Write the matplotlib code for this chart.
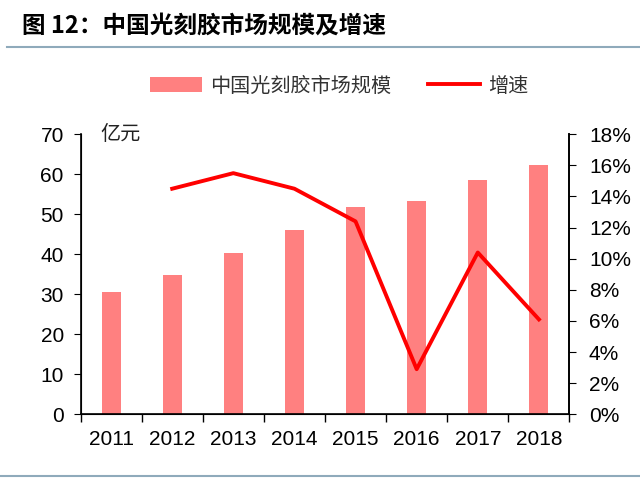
import matplotlib.pyplot as plt
from matplotlib.lines import Line2D
import numpy as np

plt.rcParams['font.family'] = ['Liberation Sans', 'Noto Sans CJK SC', 'DejaVu Sans']

years = ['2011', '2012', '2013', '2014', '2015', '2016', '2017', '2018']
market_size = [30.5, 34.8, 40.2, 46.1, 51.7, 53.3, 58.6, 62.2]   # 亿元
growth_years = ['2012', '2013', '2014', '2015', '2016', '2017', '2018']
growth = [14.5, 15.5, 14.5, 12.4, 2.9, 10.4, 6.1]               # %

fig = plt.figure(figsize=(6.4, 4.78), dpi=100)
ax = fig.add_axes([0.1258, 0.1333, 0.764, 0.5858])

x = np.arange(len(years))
ax.bar(x, market_size, width=0.31, color='#FF8080', label='中国光刻胶市场规模', zorder=2)
ax.set_xlim(-0.5, len(years) - 0.5)
ax.set_ylim(0, 70)
ax.set_yticks(range(0, 71, 10))
ax.set_xticks(x)
ax.set_xticklabels(years)
ax.set_xticks(np.arange(-0.5, len(years), 1), minor=True)
ax.tick_params(axis='x', which='major', length=0, labelsize=15, pad=11)
ax.tick_params(axis='x', which='minor', length=5.5, direction='out', width=1)
ax.tick_params(axis='y', length=5, direction='out', labelsize=15, pad=7)
ax.spines['top'].set_visible(False)
for s in ['left', 'bottom', 'right']:
    ax.spines[s].set_linewidth(1.2)

ax2 = ax.twinx()
gx = [years.index(y) for y in growth_years]
ax2.plot(gx, growth, color='#FF0000', linewidth=2.8, label='增速', zorder=3)
ax2.set_ylim(0, 18)
ax2.set_yticks(range(0, 19, 2))
ax2.set_yticklabels([f'{v}%' for v in range(0, 19, 2)])
ax2.tick_params(axis='y', length=5, direction='out', labelsize=15, pad=9)
ax2.spines['top'].set_visible(False)
ax2.spines['right'].set_linewidth(1.2)

ax.text(0.04, 1.0, '亿元', transform=ax.transAxes, fontsize=14.5,
        family=['Noto Sans CJK SC'], va='center', ha='left', color='#222222')

h1, l1 = ax.get_legend_handles_labels()
h2, l2 = ax2.get_legend_handles_labels()
fig.legend(h1 + h2, l1 + l2, loc='center', bbox_to_anchor=(0.53, 0.82),
           ncol=2, frameon=False, handlelength=2.6,
           handleheight=0.7, columnspacing=1.8, handletextpad=0.4,
           labelcolor='#333333',
           prop={'family': ['Noto Sans CJK SC'], 'size': 14.5})

fig.text(0.034, 0.944, '图 12：中国光刻胶市场规模及增速', fontsize=17, fontweight='bold',
         family=['Noto Sans CJK SC'], va='center', ha='left')
fig.add_artist(Line2D([0.011, 1.0], [0.902, 0.902], color='#8FAABB', linewidth=1.5,
                      transform=fig.transFigure))
fig.add_artist(Line2D([0.0, 1.0], [0.005, 0.005], color='#8FAABB', linewidth=1.5,
                      transform=fig.transFigure))

fig.savefig('out.png', dpi=100)
